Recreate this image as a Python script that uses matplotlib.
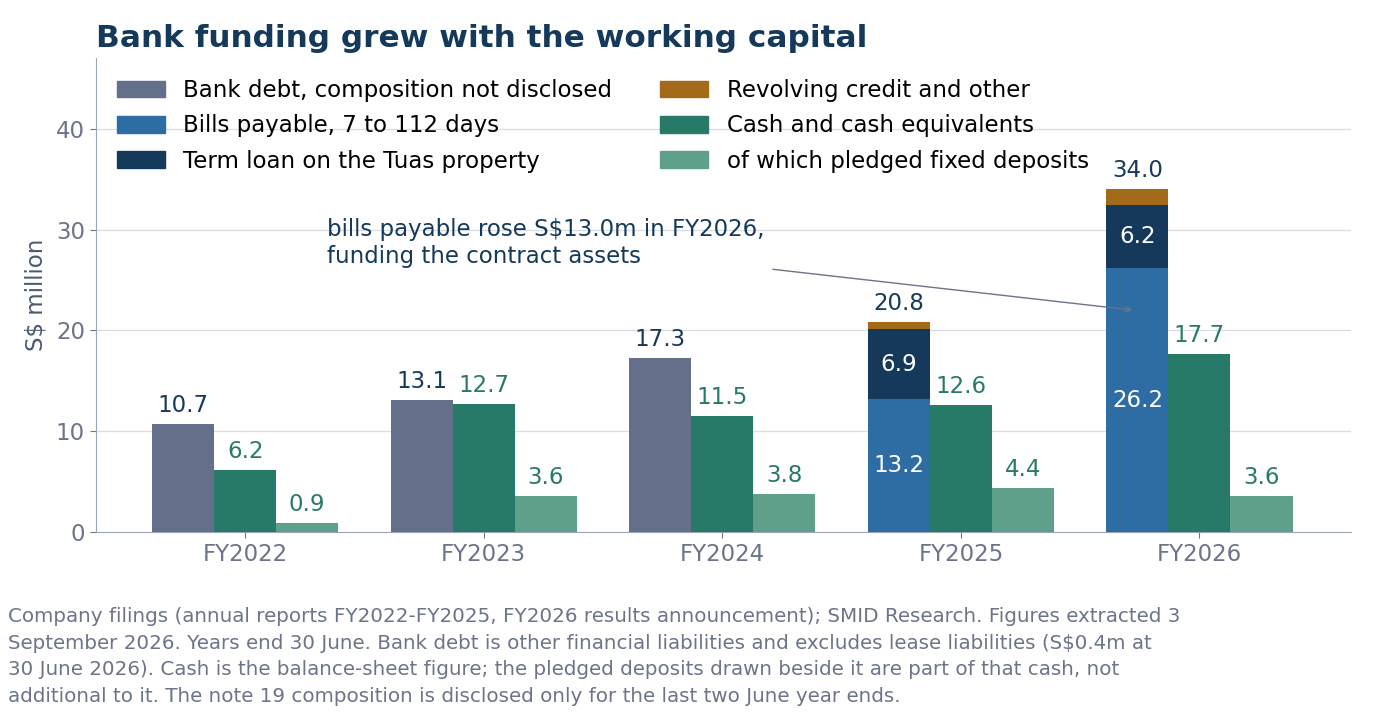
import numpy as np
import matplotlib
matplotlib.use("Agg")
import matplotlib.pyplot as plt
from matplotlib.patches import Patch

years = ["FY2022", "FY2023", "FY2024", "FY2025", "FY2026"]
debt_undisclosed = [10.7, 13.1, 17.3, 0.0, 0.0]
bills_payable = [0.0, 0.0, 0.0, 13.2, 26.2]
term_loan = [0.0, 0.0, 0.0, 6.9, 6.2]
revolving = [0.0, 0.0, 0.0, 0.7, 1.6]
cash = [6.2, 12.7, 11.5, 12.6, 17.7]
pledged = [0.9, 3.6, 3.8, 4.4, 3.6]

C_GREY = "#64708a"
C_BILLS = "#2e6da4"
C_TERM = "#14395b"
C_REV = "#a36a19"
C_CASH = "#287a68"
C_PLEDGE = "#5fa08a"
C_TEXT = "#15395b"
C_TICK = "#6b7489"

plt.rcParams["font.family"] = ["DejaVu Sans"]

fig = plt.figure(figsize=(13.76, 7.2), dpi=100)
ax = fig.add_axes([0.0698, 0.261, 0.912, 0.658])

x = np.arange(len(years))
w = 0.26
xd = x - w

ax.bar(xd, debt_undisclosed, w, color=C_GREY, zorder=3)
ax.bar(xd, bills_payable, w, color=C_BILLS, zorder=3)
b1 = np.array(bills_payable)
ax.bar(xd, term_loan, w, bottom=b1, color=C_TERM, zorder=3)
b2 = b1 + np.array(term_loan)
ax.bar(xd, revolving, w, bottom=b2, color=C_REV, zorder=3)
ax.bar(x, cash, w, color=C_CASH, zorder=3)
ax.bar(x + w, pledged, w, color=C_PLEDGE, zorder=3)

debt_total = np.array(debt_undisclosed) + b2 + np.array(revolving)
fs = 16.5
for i in range(len(years)):
    ax.annotate(f"{debt_total[i]:.1f}", (xd[i], debt_total[i]), xytext=(0, 5),
                textcoords="offset points", ha="center", va="bottom",
                color=C_TEXT, fontsize=fs)
    ax.annotate(f"{cash[i]:.1f}", (x[i], cash[i]), xytext=(0, 5),
                textcoords="offset points", ha="center", va="bottom",
                color=C_CASH, fontsize=fs)
    ax.annotate(f"{pledged[i]:.1f}", (x[i] + w, pledged[i]), xytext=(0, 5),
                textcoords="offset points", ha="center", va="bottom",
                color=C_CASH, fontsize=fs)
    if bills_payable[i] > 0:
        ax.text(xd[i], bills_payable[i] / 2, f"{bills_payable[i]:.1f}",
                ha="center", va="center", color="white", fontsize=fs, zorder=4)
        ax.text(xd[i], b1[i] + term_loan[i] / 2, f"{term_loan[i]:.1f}",
                ha="center", va="center", color="white", fontsize=fs, zorder=4)

# callout on the FY2026 bills payable
ax.text(0.343, 26.2, "bills payable rose S$13.0m in FY2026,\nfunding the contract assets",
        color=C_TEXT, fontsize=fs, ha="left", va="bottom")
ax.annotate("", xy=(3.73, 22.0), xytext=(2.20, 26.1),
            arrowprops=dict(arrowstyle="->", color="#6b7489", lw=1.0))

ax.set_xlim(-0.625, 4.635)
ax.set_ylim(0, 47)
ax.set_xticks(x)
ax.set_xticklabels(years)
ax.set_yticks([0, 10, 20, 30, 40])
ax.tick_params(axis="both", colors=C_TICK, labelsize=fs, length=4.5)
ax.set_ylabel("S$ million", fontsize=fs, color="#4d5a70", labelpad=6)
ax.grid(axis="y", color="#d9dde3", lw=0.9, zorder=0)
ax.set_axisbelow(True)
for s in ["top", "right"]:
    ax.spines[s].set_visible(False)
for s in ["left", "bottom"]:
    ax.spines[s].set_color("#9aa5b8")

handles = [Patch(color=C_GREY), Patch(color=C_BILLS), Patch(color=C_TERM),
           Patch(color=C_REV), Patch(color=C_CASH), Patch(color=C_PLEDGE)]
labels = ["Bank debt, composition not disclosed", "Bills payable, 7 to 112 days",
          "Term loan on the Tuas property", "Revolving credit and other",
          "Cash and cash equivalents", "of which pledged fixed deposits"]
ax.legend(handles, labels, ncol=2, loc="upper left", bbox_to_anchor=(0.0, 1.0),
          frameon=False, fontsize=fs, handlelength=2.1, handleheight=0.75,
          columnspacing=2.1, labelspacing=0.54, handletextpad=0.8)

fig.text(0.0698, 0.935, "Bank funding grew with the working capital",
         fontsize=22.4, fontweight="bold", color=C_TEXT, ha="left", va="baseline")

foot = ("Company filings (annual reports FY2022-FY2025, FY2026 results announcement); SMID Research. Figures extracted 3\n"
        "September 2026. Years end 30 June. Bank debt is other financial liabilities and excludes lease liabilities (S$0.4m at\n"
        "30 June 2026). Cash is the balance-sheet figure; the pledged deposits drawn beside it are part of that cash, not\n"
        "additional to it. The note 19 composition is disclosed only for the last two June year ends.")
fig.text(0.006, 0.02, foot, fontsize=14.3, color=C_TICK, ha="left", va="bottom",
         linespacing=1.5)

fig.savefig("out.png", dpi=100)
